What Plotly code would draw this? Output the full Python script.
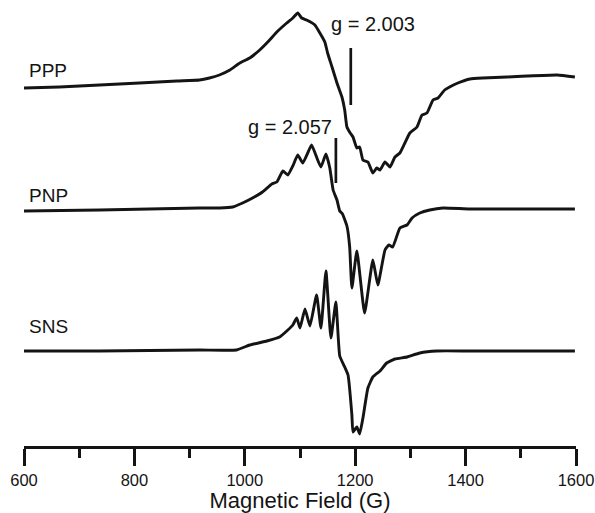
import plotly.graph_objects as go

# Magnetic field (G) and signal (arbitrary units, relative to each trace's baseline)
ppp_field = [600, 664, 737, 809, 877, 918, 936, 954, 973, 991, 1009, 1027, 1045, 1058, 1076, 1087, 1096,
             1103, 1112, 1127, 1136, 1145, 1150, 1158, 1167, 1176, 1181, 1185, 1191, 1196, 1203, 1208,
             1214, 1223, 1232, 1239, 1245, 1254, 1263, 1272, 1281, 1290, 1299, 1312, 1321, 1330, 1341,
             1350, 1362, 1371, 1386, 1408, 1431, 1475, 1511, 1566, 1598]
ppp_signal = [0, 1, 3, 5, 7, 8, 10, 13, 18, 25, 30, 38, 48, 56, 65, 70, 75,
              70, 68, 63, 55, 46, 35, 21, 5, -9, -22, -39, -45, -49, -60, -59,
              -72, -74, -85, -80, -82, -74, -79, -69, -65, -55, -45, -39, -27, -25, -12,
              -10, -2, 1, 5, 9, 10, 11, 12, 13, 11]

pnp_field = [600, 737, 918, 954, 978, 996, 1014, 1032, 1049, 1058, 1069, 1078, 1087, 1096, 1105, 1114,
             1121, 1132, 1138, 1147, 1154, 1160, 1167, 1172, 1177, 1185, 1190, 1194, 1203, 1217, 1232,
             1241, 1254, 1261, 1268, 1281, 1294, 1303, 1317, 1335, 1359, 1408, 1598]
pnp_signal = [-1, 0, 2, 2, 3, 7, 12, 18, 26, 28, 39, 35, 44, 55, 47, 57,
              65, 50, 43, 56, 42, 20, 10, -1, -4, -16, -37, -78, -41, -103, -50,
              -75, -40, -35, -37, -18, -15, -8, -3, 0, 2, 1, 1]

sns_field = [600, 737, 918, 985, 1009, 1040, 1063, 1078, 1087, 1094, 1100, 1109, 1118, 1130, 1138, 1147,
             1156, 1165, 1172, 1181, 1187, 1194, 1196, 1203, 1208, 1214, 1223, 1232, 1245, 1257, 1272,
             1294, 1317, 1348, 1408, 1598]
sns_signal = [0, 0, 1, 1, 6, 10, 14, 21, 26, 33, 23, 42, 25, 56, 23, 80,
              13, 49, -5, -16, -24, -64, -81, -76, -83, -67, -37, -26, -20, -12, -8,
              -6, -2, 0, 0, 0]

sample_names = ["PPP", "PNP", "SNS"]
sample_offsets = [358, 236, 95]
label_heights = [18, 15, 25]

g_texts = ["g = 2.003", "g = 2.057"]
g_line_field = [1192, 1165]
g_line_y = [(341, 398), (263, 308)]
g_text_pos = [(1232, 422), (1081, 319)]

tick_vals = [600, 800, 1000, 1200, 1400, 1600]

FONT = "Liberation Sans, Arial, sans-serif"
INK = "#141414"
fig = go.Figure()
for field, sig, off in zip([ppp_field, pnp_field, sns_field],
                           [ppp_signal, pnp_signal, sns_signal], sample_offsets):
    fig.add_trace(go.Scatter(x=field, y=[s + off for s in sig], mode="lines",
                             line=dict(color=INK, width=2.9, shape="spline", smoothing=0.4),
                             showlegend=False, hoverinfo="skip"))

for name, off, lh in zip(sample_names, sample_offsets, label_heights):
    fig.add_annotation(x=605, y=off + lh, text=name, showarrow=False, xanchor="left",
                       yanchor="middle", font=dict(family=FONT, size=19, color=INK))

for txt, gx, (y0, y1), (tx, ty) in zip(g_texts, g_line_field, g_line_y, g_text_pos):
    fig.add_shape(type="line", x0=gx, x1=gx, y0=y0, y1=y1, line=dict(color=INK, width=2.7))
    fig.add_annotation(x=tx, y=ty, text=txt, showarrow=False, xanchor="center", yanchor="middle",
                       font=dict(family=FONT, size=20, color=INK))

fig.update_layout(
    width=595, height=513, margin=dict(l=24, r=19, t=0, b=67, autoexpand=False),
    plot_bgcolor="white", paper_bgcolor="white",
    font=dict(family=FONT, color=INK),
    xaxis=dict(range=[600, 1600], showline=True, linecolor=INK, linewidth=2.7,
               automargin=False,
               ticks="outside", ticklen=17, tickwidth=2.7, tickcolor=INK,
               tickvals=tick_vals, ticktext=[str(v) for v in tick_vals],
               tickfont=dict(size=16.5), showgrid=False, zeroline=False,
               minor=dict(dtick=100, tick0=600, ticks="outside", ticklen=9, tickwidth=2.7,
                          tickcolor=INK, showgrid=False),
               title=dict(text="Magnetic Field (G)", font=dict(size=22), standoff=2)),
    yaxis=dict(range=[0, 446], visible=False, showgrid=False, zeroline=False, automargin=False),
)
fig.write_html("out.html", config={"displayModeBar": False},
               post_script="document.body.style.margin='0px';")
